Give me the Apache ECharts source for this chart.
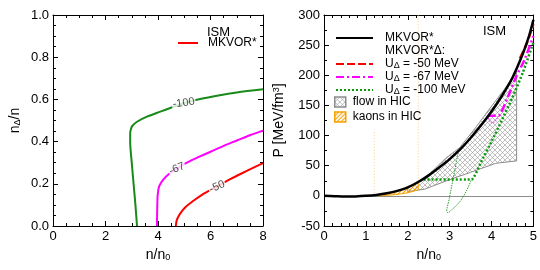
<!DOCTYPE html>
<html><head><meta charset="utf-8">
<script src="https://cdn.jsdelivr.net/npm/echarts@6/dist/echarts.min.js"></script>
<style>html,body{margin:0;padding:0;background:#fff}#c{width:540px;height:270px}</style>
</head><body><div id="c"></div>
<script>
// ---------- Left panel data: n_Delta/n vs n/n0 ----------
const leftXTicks = [0, 2, 4, 6, 8];
const leftYTicks = [0, 0.2, 0.4, 0.6, 0.8, 1.0];
const green100 = [[3.20,0],[3.14,0.1],[3.07,0.2],[3.0,0.3],[2.94,0.4],[2.94,0.44],[2.97,0.46],[3.02,0.474],[3.2,0.494],[3.58,0.518],[4.09,0.542],[4.59,0.565],[5.0,0.583],[5.6,0.602],[6.3,0.619],[7.0,0.633],[8.0,0.648]];
const magenta67 = [[3.96,0],[3.97,0.08],[3.99,0.15],[4.05,0.19],[4.2,0.22],[4.45,0.25],[4.72,0.272],[5.1,0.3],[5.6,0.33],[6.0,0.352],[6.5,0.38],[7.0,0.405],[7.5,0.43],[8.0,0.452]];
const red50 = [[4.68,0],[4.72,0.03],[4.85,0.06],[5.05,0.09],[5.3,0.115],[5.7,0.15],[6.25,0.187],[6.75,0.222],[7.4,0.262],[8.0,0.298]];
const contourLabels = ['-100', '-67', '-50'];
const contourLabelPos = [[4.98,0.583],[4.72,0.272],[6.25,0.186]];

// ---------- Right panel data: P vs n/n0 ----------
const mkvor = [[0,0],[0.25,-0.6],[0.5,-1.1],[0.75,-0.9],[1,0],[1.25,1.6],[1.5,4.2],[1.75,8.2],[2,14],[2.25,23],[2.5,34],[2.75,47],[3,61],[3.25,77],[3.5,96],[3.75,117],[4,140],[4.25,166],[4.5,196],[4.75,236],[4.9,266],[5,292]];
const u50 = [[4.68,228],[4.8,246],[4.9,264],[5,285]];
const u67 = [[3.91,133],[4.17,133],[4.39,164],[4.59,198],[4.79,226],[5,265]];
const u67Loop = [[3.91,133],[3.94,126],[3.98,122],[4.03,121],[4.1,125],[4.17,133]];
const u100 = [[2.38,27],[3.52,27],[3.75,56],[4,90],[4.25,126],[4.5,163],[4.75,205],[5,254]];
const u100Loop = [[3.2,71],[3.13,45],[3.06,20],[2.99,-5],[2.94,-20],[2.93,-26],[2.96,-28],[3.05,-23],[3.24,-10],[3.4,8],[3.52,27]];
const flowUpper = [[2,14],[2.3,24],[2.6,42],[2.9,62],[3.24,80],[3.64,115],[3.95,144],[4.3,176],[4.6,207]];
const flowLower = [[4.6,58],[4.1,54],[3.5,39],[3.0,27],[2.4,11],[2.0,7]];
const kaonUpper = [[1.3,0.8],[1.5,2.5],[1.7,6],[2.0,14],[2.25,24]];
const kaonLower = [[2.25,10],[2.0,5],[1.7,2],[1.5,0.8],[1.3,0]];
const kaonBoundA = [[1.2,0],[1.2,110]];
const kaonBoundB = [[2.25,24],[2.25,300]];
const rightXTicks = [0, 1, 2, 3, 4, 5];
const rightYTicks = [-50, 0, 50, 100, 150, 200, 250, 300];

const legendNames = {
  black: 'MKVOR*', dl: 'MKVOR*Δ:', u50: 'U{sub|Δ} = -50 MeV', u67: 'U{sub|Δ} = -67 MeV',
  u100: 'U{sub|Δ} = -100 MeV', flow: 'flow in HIC', kaons: 'kaons in HIC', redL: 'MKVOR*'
};

// ---------- patterns ----------
function hatch(size, color, cross, lw) {
  const c = document.createElement('canvas');
  c.width = c.height = size;
  const g = c.getContext('2d');
  g.strokeStyle = color; g.lineWidth = lw;
  g.beginPath();
  g.moveTo(-1, size + 1); g.lineTo(size + 1, -1);
  g.moveTo(-1, 1); g.lineTo(1, -1);
  g.moveTo(size - 1, size + 1); g.lineTo(size + 1, size - 1);
  if (cross) {
    g.moveTo(-1, -1); g.lineTo(size + 1, size + 1);
    g.moveTo(size - 1, -1); g.lineTo(size + 1, 1);
    g.moveTo(-1, size - 1); g.lineTo(1, size + 1);
  }
  g.stroke();
  return c;
}
const flowPat = { image: hatch(5, '#969696', true, 0.6), repeat: 'repeat' };
const kaonPat = { image: hatch(4, '#f5a000', false, 1.1), repeat: 'repeat' };

const FONT = 'Liberation Sans, Arial, sans-serif';
const rich = {
  sub: { fontSize: 9, verticalAlign: 'bottom', padding: [5, 0, 0, 0], fontFamily: FONT, color: '#000' },
  sup: { fontSize: 9, verticalAlign: 'top', padding: [0, 0, 6, 0], fontFamily: FONT, color: '#000' }
};

function xAxisPair(grid, min, max, interval, minorSplit, name, fmt) {
  const base = {
    type: 'value', gridIndex: grid, min: min, max: max, interval: interval,
    axisLine: { onZero: false, lineStyle: { color: '#000', width: 1 } },
    axisTick: { inside: true, length: 5, lineStyle: { color: '#000' } },
    minorTick: { show: true, splitNumber: minorSplit, length: 3, lineStyle: { color: '#000' } },
    splitLine: { show: false }, minorSplitLine: { show: false }
  };
  return [
    Object.assign({}, base, {
      position: 'bottom',
      axisLabel: { fontSize: 13, color: '#000', margin: 4, fontFamily: FONT, formatter: fmt },
      name: name, nameLocation: 'middle', nameGap: 14,
      nameTextStyle: { fontSize: 14, color: '#000', fontFamily: FONT, rich: rich }
    }),
    Object.assign({}, base, { position: 'top', axisLabel: { show: false } })
  ];
}
function yAxisPair(grid, min, max, interval, minorSplit, name, fmt, gap) {
  const base = {
    type: 'value', gridIndex: grid, min: min, max: max, interval: interval,
    axisLine: { onZero: false, lineStyle: { color: '#000', width: 1 } },
    axisTick: { inside: true, length: 5, lineStyle: { color: '#000' } },
    minorTick: { show: true, splitNumber: minorSplit, length: 3, lineStyle: { color: '#000' } },
    splitLine: { show: false }, minorSplitLine: { show: false }
  };
  return [
    Object.assign({}, base, {
      position: 'left',
      axisLabel: { fontSize: 13, color: '#000', margin: 4, fontFamily: FONT, formatter: fmt },
      name: name, nameLocation: 'middle', nameGap: gap, nameRotate: 90,
      nameTextStyle: { fontSize: 14, color: '#000', fontFamily: FONT, rich: rich }
    }),
    Object.assign({}, base, { position: 'right', axisLabel: { show: false } })
  ];
}

function polyRender(points, style) {
  return function (params, api) {
    if (params.dataIndex > 0) return null;
    return { type: 'polygon', shape: { points: points.map(p => api.coord(p)) }, style: style };
  };
}

const chart = echarts.init(document.getElementById('c'), null, { renderer: 'canvas' });

const labelRot = [8, 22, 24];
const contourData = contourLabelPos.map((p, i) => ({
  value: [p[0], p[1]],
  label: { show: true, formatter: contourLabels[i], rotate: labelRot[i] }
}));

const option = {
  animation: false,
  textStyle: { fontFamily: FONT },
  title: [
    { text: 'ISM', left: 207, top: 26, padding: 0, textStyle: { fontSize: 13, fontWeight: 'normal', color: '#000', fontFamily: FONT } },
    { text: 'ISM', left: 483, top: 25, padding: 0, textStyle: { fontSize: 13, fontWeight: 'normal', color: '#000', fontFamily: FONT } }
  ],
  grid: [
    { left: 53, top: 15, width: 210, height: 211 },
    { left: 324, top: 15, width: 210, height: 211 }
  ],
  xAxis: [].concat(
    xAxisPair(0, 0, 8, 2, 4, 'n/n{sub|0}', v => String(v)),
    xAxisPair(1, 0, 5, 1, 5, 'n/n{sub|0}', v => String(v))
  ),
  yAxis: [].concat(
    yAxisPair(0, 0, 1, 0.2, 4, 'n{sub|Δ}/n', v => v.toFixed(1), 31),
    yAxisPair(1, -50, 300, 50, 2, 'P [MeV/fm{sup|3}]', v => String(v), 37)
  ),
  legend: [
    {
      left: 177, top: 37, padding: 0, orient: 'vertical', selectedMode: false,
      itemWidth: 20, itemHeight: 12, data: ['redL'],
      itemStyle: { opacity: 0 },
      formatter: n => legendNames[n],
      textStyle: { fontSize: 12, color: '#000', fontFamily: FONT, padding: [0, 0, 0, 5] }
    },
    {
      left: 335, top: 32, padding: 0, orient: 'vertical', selectedMode: false,
      itemWidth: 37, itemHeight: 12, itemGap: 1,
      itemStyle: { opacity: 0 },
      data: ['black', 'dl', 'u50', 'u67', 'u100'],
      formatter: n => legendNames[n],
      textStyle: { fontSize: 12, color: '#000', fontFamily: FONT, padding: [0, 0, 0, 7], lineHeight: 12, rich: rich }
    },
    {
      left: 334, top: 96, padding: 0, orient: 'vertical', selectedMode: false,
      itemWidth: 11, itemHeight: 10, itemGap: 3,
      data: [
        { name: 'flow', icon: 'rect', itemStyle: { color: flowPat, borderColor: '#8c8c8c', borderWidth: 1.5 } },
        { name: 'kaons', icon: 'rect', itemStyle: { color: kaonPat, borderColor: '#f5a000', borderWidth: 1.5 } }
      ],
      formatter: n => legendNames[n],
      textStyle: { fontSize: 12, color: '#000', fontFamily: FONT, padding: [0, 0, 0, 2] }
    }
  ],
  series: [
    // ----- left panel -----
    { name: 'g100', type: 'line', xAxisIndex: 0, yAxisIndex: 0, data: green100, symbol: 'none', smooth: 0.3,
      lineStyle: { color: '#188a18', width: 2 }, z: 2 },
    { name: 'm67', type: 'line', xAxisIndex: 0, yAxisIndex: 0, data: magenta67, symbol: 'none', smooth: 0.3,
      lineStyle: { color: '#ff00ff', width: 2 }, z: 2 },
    { name: 'redL', type: 'line', xAxisIndex: 0, yAxisIndex: 0, data: red50, symbol: 'none', smooth: 0.3,
      itemStyle: { color: '#ff0000' }, lineStyle: { color: '#ff0000', width: 2 }, z: 2 },
    { name: 'clabels', type: 'scatter', xAxisIndex: 0, yAxisIndex: 0, data: contourData, symbolSize: 0, z: 5,
      label: { position: 'inside', fontSize: 11, color: '#222', backgroundColor: '#fff', padding: [0, 1], fontFamily: FONT } },

    // ----- right panel -----
    { name: 'flow', type: 'custom', xAxisIndex: 2, yAxisIndex: 2, data: flowUpper.concat(flowLower), z: 1,
      itemStyle: { color: flowPat, borderColor: '#8c8c8c' },
      renderItem: polyRender(flowUpper.concat(flowLower), { fill: flowPat, stroke: '#8c8c8c', lineWidth: 1 }) },
    { name: 'kaons', type: 'custom', xAxisIndex: 2, yAxisIndex: 2, data: kaonUpper.concat(kaonLower), z: 2,
      itemStyle: { color: kaonPat, borderColor: '#f5a000' },
      renderItem: polyRender(kaonUpper.concat(kaonLower), { fill: kaonPat, stroke: '#f5a000', lineWidth: 1 }) },
    { name: 'kA', type: 'line', xAxisIndex: 2, yAxisIndex: 2, data: kaonBoundA, symbol: 'none',
      lineStyle: { color: '#ffc880', width: 1, type: [1, 2] }, z: 2 },
    { name: 'kB', type: 'line', xAxisIndex: 2, yAxisIndex: 2, data: kaonBoundB, symbol: 'none',
      lineStyle: { color: '#ffc880', width: 1, type: [1, 2] }, z: 2 },
    { name: 'u100loop', type: 'line', xAxisIndex: 2, yAxisIndex: 2, data: u100Loop, symbol: 'none', smooth: 0.3,
      lineStyle: { color: '#1a9a1a', width: 0.9, type: [1.5, 1] }, z: 3 },
    { name: 'u67loop', type: 'line', xAxisIndex: 2, yAxisIndex: 2, data: u67Loop, symbol: 'none', smooth: 0.4,
      lineStyle: { color: '#ff00ff', width: 0.9, type: [1.5, 1] }, z: 3 },
    { name: 'u100', type: 'line', xAxisIndex: 2, yAxisIndex: 2, data: u100, symbol: 'none', smooth: 0.15,
      lineStyle: { color: '#0a9a0a', width: 2.5, type: [2, 2] }, z: 4 },
    { name: 'u67', type: 'line', xAxisIndex: 2, yAxisIndex: 2, data: u67, symbol: 'none', smooth: 0.15,
      lineStyle: { color: '#ff00ff', width: 2.5, type: [8, 3, 2, 3] }, z: 4 },
    { name: 'u50', type: 'line', xAxisIndex: 2, yAxisIndex: 2, data: u50, symbol: 'none', smooth: 0.2,
      lineStyle: { color: '#ff0000', width: 2.5, type: [8, 3] }, z: 4 },
    { name: 'dl', type: 'line', xAxisIndex: 2, yAxisIndex: 2, data: [], symbol: 'none',
      lineStyle: { color: 'rgba(0,0,0,0)', width: 0 } },
    { name: 'black', type: 'line', xAxisIndex: 2, yAxisIndex: 2, data: mkvor, symbol: 'none', smooth: 0.3,
      lineStyle: { color: '#000', width: 2.5 }, z: 5,
      markLine: { silent: true, symbol: 'none', label: { show: false }, z: 1,
        lineStyle: { color: '#8c8c8c', width: 1, type: 'solid' }, data: [{ yAxis: 0 }] } }
  ]
};
chart.setOption(option);
</script>
</body></html>
